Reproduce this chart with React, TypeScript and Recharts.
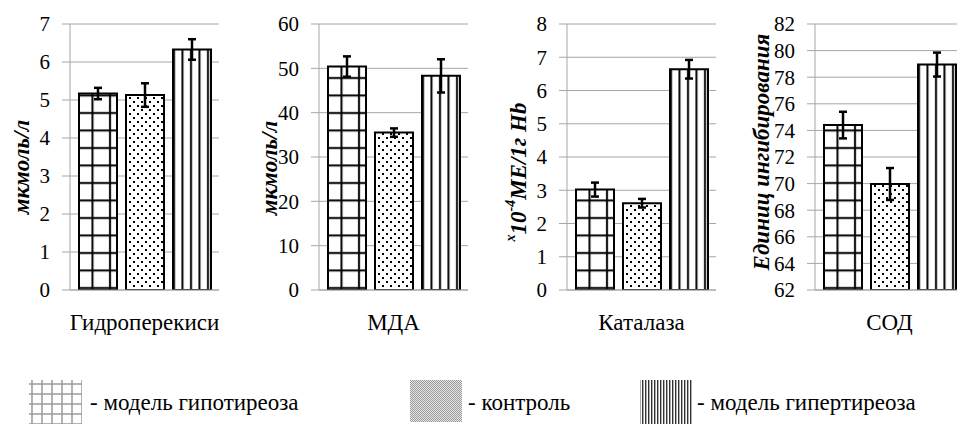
import React from "react";
import { Bar, BarChart, CartesianGrid, ErrorBar, XAxis, YAxis } from "recharts";

// values
const categories = ["Гидроперекиси", "МДА", "Каталаза", "СОД"];
const hypo = [5.17, 50.4, 3.02, 74.4];
const hypoErr = [0.15, 2.3, 0.21, 1.0];
const control = [5.13, 35.5, 2.61, 69.97];
const controlErr = [0.31, 0.95, 0.13, 1.2];
const hyper = [6.33, 48.3, 6.64, 78.95];
const hyperErr = [0.27, 3.75, 0.28, 0.9];

const yDomains = [
  [0, 7],
  [0, 60],
  [0, 8],
  [62, 82],
];
const yTicks = [
  [0, 1, 2, 3, 4, 5, 6, 7],
  [0, 10, 20, 30, 40, 50, 60],
  [0, 1, 2, 3, 4, 5, 6, 7, 8],
  [62, 64, 66, 68, 70, 72, 74, 76, 78, 80, 82],
];
// segments of the axis titles, sup = superscript
const yTitles = [
  [{ text: "мкмоль/л", sup: false }],
  [{ text: "мкмоль/л", sup: false }],
  [
    { text: "x", sup: true },
    { text: "10", sup: false },
    { text: "-4", sup: true },
    { text: "МЕ/1г Hb", sup: false },
  ],
  [{ text: "Единиц ингибирования", sup: false }],
];
const legendLabels = ["- модель гипотиреоза", "- контроль", "- модель гипертиреоза"];

const FONT = '"Liberation Serif"';
const GRID = "#a6a6a6";

// recharts text otherwise comes out in a sans font here
const css = `
.recharts-wrapper text, .recharts-wrapper tspan { font-family: "Liberation Serif", serif !important; }
.recharts-wrapper text.ytitle { font-weight: bold; font-style: italic; }
`;

const panelLeft = [0, 249, 497, 745];
const titlePos = [
  [21, 167],
  [20, 168],
  [21, 172],
  [16, 152],
];

const Patterns = () => (
  <svg width={0} height={0} style={{ position: "absolute" }}>
    <defs>
      <pattern id="pGrid" patternUnits="userSpaceOnUse" width={17.5} height={17.5}>
        <rect width={17.5} height={17.5} fill="#fff" />
        <line x1={5} y1={0} x2={5} y2={17.5} stroke="#000" strokeWidth={2} />
        <line x1={0} y1={8} x2={17.5} y2={8} stroke="#000" strokeWidth={2} />
      </pattern>
      <pattern id="pDots" patternUnits="userSpaceOnUse" width={8} height={8}>
        <rect width={8} height={8} fill="#fff" />
        <rect x={1} y={1} width={2} height={2} fill="#000" />
        <rect x={5} y={5} width={2} height={2} fill="#000" />
      </pattern>
      <pattern id="pLines" patternUnits="userSpaceOnUse" width={8.5} height={10}>
        <rect width={8.5} height={10} fill="#fff" />
        <line x1={4} y1={0} x2={4} y2={10} stroke="#000" strokeWidth={2} />
      </pattern>
      <pattern id="lGrid" patternUnits="userSpaceOnUse" width={10} height={10}>
        <rect width={10} height={10} fill="#fff" />
        <line x1={2} y1={0} x2={2} y2={10} stroke="#9a9a9a" strokeWidth={1.5} />
        <line x1={0} y1={4} x2={10} y2={4} stroke="#9a9a9a" strokeWidth={1.5} />
      </pattern>
      <pattern id="lDots" patternUnits="userSpaceOnUse" width={2} height={2}>
        <rect width={2} height={2} fill="#e6e6e6" />
        <rect width={1} height={1} fill="#9a9a9a" />
        <rect x={1} y={1} width={1} height={1} fill="#9a9a9a" />
      </pattern>
      <pattern id="lLines" patternUnits="userSpaceOnUse" width={3} height={10}>
        <rect width={3} height={10} fill="#fff" />
        <rect width={1.4} height={10} fill="#333" />
      </pattern>
    </defs>
  </svg>
);

const Panel = ({ i }: { i: number }) => {
  const data = [
    {
      name: categories[i],
      hypo: hypo[i],
      hypoErr: hypoErr[i],
      control: control[i],
      controlErr: controlErr[i],
      hyper: hyper[i],
      hyperErr: hyperErr[i],
    },
  ];
  const [tx, ty] = titlePos[i];
  const title = () => (
    <text
      className="ytitle"
      x={tx}
      y={ty}
      transform={`rotate(-90 ${tx} ${ty})`}
      textAnchor="middle"
      dominantBaseline="central"
      fontFamily="Liberation Serif"
      fontSize={23}
      fontWeight="bold"
      fontStyle="italic"
      fill="#000"
    >
      {yTitles[i].map((s, k) =>
        s.sup ? (
          <tspan key={k} fontSize={14} baselineShift="super">
            {s.text}
          </tspan>
        ) : (
          <tspan key={k}>{s.text}</tspan>
        )
      )}
    </text>
  );
  return (
    <div style={{ position: "absolute", left: panelLeft[i], top: 0 }}>
      <BarChart
        width={219}
        height={350}
        data={data}
        margin={{ top: 24, right: 0, left: 0, bottom: 0 }}
        barCategoryGap={9}
        barGap={9}
        style={{ overflow: "visible" }}
      >
        <CartesianGrid vertical={false} stroke={GRID} />
        <XAxis
          dataKey="name"
          height={60}
          axisLine={{ stroke: GRID }}
          tickLine={false}
          tickSize={0}
          tickMargin={24}
          interval={0}
          tick={{ fill: "#000", fontSize: 23, fontFamily: "Liberation Serif" }}
        />
        <YAxis
          width={70}
          domain={yDomains[i]}
          ticks={yTicks[i]}
          interval={0}
          allowDataOverflow
          axisLine={{ stroke: GRID }}
          tickLine={{ stroke: GRID }}
          tickSize={8}
          tickMargin={12}
          tick={{ fill: "#000", fontSize: 21, fontFamily: "Liberation Serif" }}
          label={title}
        />
        <Bar dataKey="hypo" fill="url(#pGrid)" stroke="#000" strokeWidth={2} isAnimationActive={false}>
          <ErrorBar dataKey="hypoErr" width={4} stroke="#000" strokeWidth={2.5} />
        </Bar>
        <Bar dataKey="control" fill="url(#pDots)" stroke="#000" strokeWidth={2} isAnimationActive={false}>
          <ErrorBar dataKey="controlErr" width={4} stroke="#000" strokeWidth={2.5} />
        </Bar>
        <Bar dataKey="hyper" fill="url(#pLines)" stroke="#000" strokeWidth={2} isAnimationActive={false}>
          <ErrorBar dataKey="hyperErr" width={4} stroke="#000" strokeWidth={2.5} />
        </Bar>
      </BarChart>
    </div>
  );
};

const legendSwatch = [
  { x: 29, y: 10, w: 53, h: 44, fill: "url(#lGrid)" },
  { x: 410, y: 10, w: 52, h: 42, fill: "url(#lDots)" },
  { x: 640, y: 10, w: 53, h: 44, fill: "url(#lLines)" },
];
const legendTextX = [90, 468, 697];

const Legend = () => (
  <svg width={957} height={54} style={{ position: "absolute", left: 0, top: 370 }}>
    {legendLabels.map((t, k) => (
      <g key={k}>
        <rect
          x={legendSwatch[k].x}
          y={legendSwatch[k].y}
          width={legendSwatch[k].w}
          height={legendSwatch[k].h}
          fill={legendSwatch[k].fill}
        />
        <text x={legendTextX[k]} y={40} style={{ fontFamily: FONT, fontSize: 23 }} fill="#000">
          {t}
        </text>
      </g>
    ))}
  </svg>
);

export default function App() {
  return (
    <div
      style={{
        position: "absolute",
        left: 0,
        top: 0,
        width: 957,
        height: 424,
        overflow: "hidden",
        background: "#fff",
      }}
    >
      <style>{css}</style>
      <Patterns />
      {categories.map((_, i) => (
        <Panel key={i} i={i} />
      ))}
      <Legend />
    </div>
  );
}
